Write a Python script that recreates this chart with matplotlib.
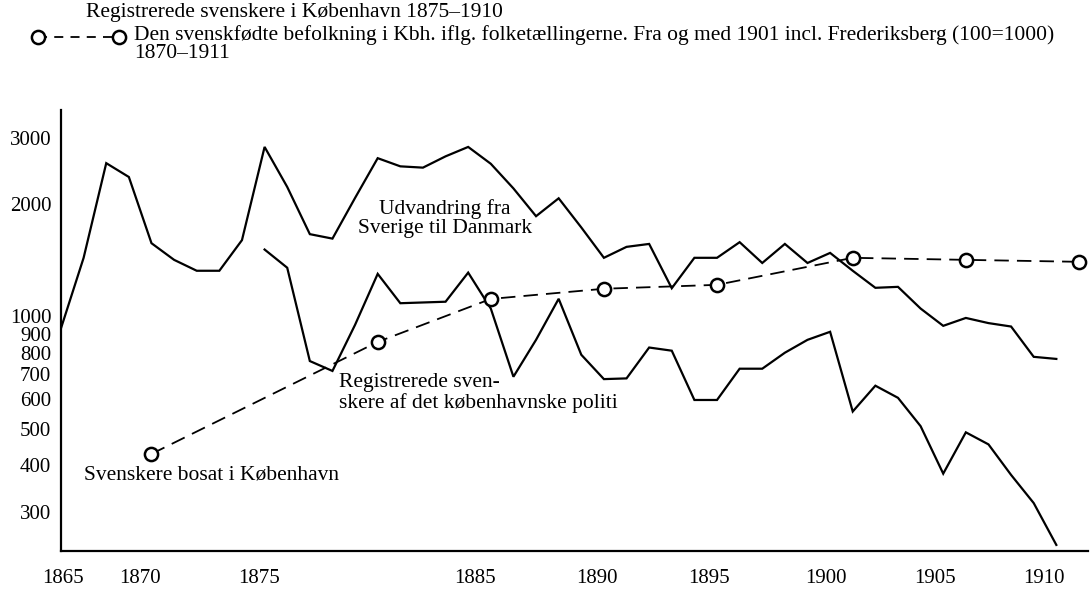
import matplotlib
matplotlib.use("Agg")
import matplotlib.pyplot as plt
from matplotlib.lines import Line2D

#### Data

EMIGRATION_YEARS = list(range(1866, 1911))
EMIGRATION = [930, 1435, 2570, 2360, 1570, 1417, 1325, 1325, 1600, 2840,
              2220, 1660, 1615, 2075, 2650, 2520, 2500, 2680, 2840, 2560,
              2200, 1854, 2070, 1730, 1435, 1535, 1563, 1190, 1435, 1435,
              1580, 1390, 1563, 1390, 1479, 1325, 1193, 1200, 1050, 944,
              991, 960, 940, 780, 770]

POLICE_YEARS = list(range(1875, 1911))
POLICE = [1510, 1350, 760, 715, 950, 1300, 1085, 1090, 1095, 1310,
          1050, 690, 866, 1115, 790, 680, 683, 826, 810, 598,
          598, 725, 725, 800, 866, 910, 557, 653, 606, 509,
          380, 490, 455, 377, 317, 245]

CENSUS_YEARS = [1870, 1880, 1885, 1890, 1895, 1901, 1906, 1911]
CENSUS = [429, 855, 1114, 1186, 1215, 1435, 1417, 1400]

Y_TICKS = [300, 400, 500, 600, 700, 800, 900, 1000, 2000, 3000]
# the printed year labels sit a little off the yearly grid in the original
X_TICK_POS = [1866.1, 1869.5, 1874.75, 1884.3, 1889.7, 1894.65, 1899.8, 1904.65, 1909.45]
X_TICK_LABELS = ['1865', '1870', '1875', '1885', '1890', '1895', '1900', '1905', '1910']

TITLE_1 = 'Registrerede svenskere i København 1875–1910'
TITLE_2 = ('Den svenskfødte befolkning i Kbh. iflg. folketællingerne. '
           'Fra og med 1901 incl. Frederiksberg (100=1000)\n1870–1911')

#### Style

FONT = ['Liberation Serif', 'DejaVu Serif']
FS = 15.5
TICK_FS = 15
W, H = 1090, 589
plt.rcParams['font.family'] = FONT

fig = plt.figure(figsize=(W / 100, H / 100), dpi=100)
ax = fig.add_axes([61 / W, 1 - 551 / H, (1088 - 61) / W, (551 - 110) / H])

ax.plot(EMIGRATION_YEARS, EMIGRATION, color='black', lw=1.6, solid_joinstyle='miter')
ax.plot(POLICE_YEARS, POLICE, color='black', lw=1.6, solid_joinstyle='miter')
ax.plot(CENSUS_YEARS, CENSUS, color='black', lw=1.3, linestyle=(0, (8, 4.5)),
        marker='o', markersize=9.5, markerfacecolor='white',
        markeredgecolor='black', markeredgewidth=1.8, zorder=3)

ax.set_yscale('log')
ax.set_xlim(1866, 1911.4)
ax.set_ylim(236, 3565)
ax.set_yticks(Y_TICKS)
ax.set_yticklabels([str(v) for v in Y_TICKS])
ax.yaxis.set_minor_locator(plt.NullLocator())
ax.set_xticks(X_TICK_POS)
ax.set_xticklabels(X_TICK_LABELS)
ax.tick_params(axis='both', length=0, labelsize=TICK_FS)
ax.tick_params(axis='y', pad=7)
ax.tick_params(axis='x', pad=13)

for side in ('top', 'right'):
    ax.spines[side].set_visible(False)
for side in ('left', 'bottom'):
    ax.spines[side].set_linewidth(1.6)

# labels inside the plot
ax.text(1882.96, 1828, 'Udvandring fra\nSverige til Danmark', ha='center', va='center',
        fontsize=FS, linespacing=1.05)
ax.text(1878.3, 624, 'Registrerede sven-\nskere af det københavnske politi', ha='left',
        va='center', fontsize=FS, linespacing=1.1)
ax.text(1867.0, 377, 'Svenskere bosat i København', ha='left', va='center', fontsize=FS)

# header / legend
fig.text(86 / W, 1 - 13 / H, TITLE_1, ha='left', va='center', fontsize=FS)
fig.text(134 / W, 1 - 25 / H, TITLE_2, ha='left', va='top', fontsize=FS, linespacing=0.95)
fig.add_artist(Line2D([38 / W, 119 / W], [1 - 37 / H, 1 - 37 / H], transform=fig.transFigure,
                      color='black', lw=1.3, linestyle=(0, (5, 4)), marker='o',
                      markersize=9.5, markerfacecolor='white', markeredgecolor='black',
                      markeredgewidth=1.8))

fig.savefig('out.png', dpi=100)
